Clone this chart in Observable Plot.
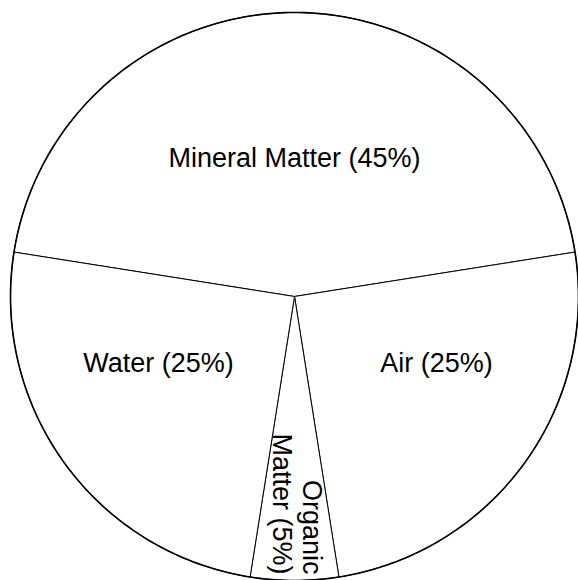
<!DOCTYPE html>
<html>
<head>
<meta charset="utf-8">
<script src="https://cdn.jsdelivr.net/npm/d3@7"></script>
<script src="https://cdn.jsdelivr.net/npm/@observablehq/plot@0.6"></script>
<style>
  html, body { margin: 0; padding: 0; background: #fff; }
  #chart svg { display: block; }
</style>
</head>
<body>
<div id="chart"></div>
<script>
// ---- data ----
const categories = ["Mineral Matter", "Air", "Organic Matter", "Water"];
const shares = [45, 25, 5, 25];
const labels = ["Mineral Matter (45%)", "Air (25%)", "Organic\nMatter (5%)", "Water (25%)"];

// ---- label layout (radius fraction, angular shift in degrees, rotation) ----
const labelRadius = [0.488, 0.553, 0.979, 0.534];
const labelShift = [0, -10.7, -0.6, 9.8];
const labelRotate = [0, 0, 90, 0];

const total = d3.sum(shares);
const start = -Math.PI * shares[0] / total;
const arcs = d3.pie().sort(null).startAngle(start).endAngle(start + 2 * Math.PI)(shares);

// slice outlines (center -> arc -> center) in unit-circle coordinates
const slicePts = [];
const rimPts = [];
arcs.forEach((a, i) => {
  const n = Math.max(8, Math.round((a.endAngle - a.startAngle) / (Math.PI / 180)));
  slicePts.push({slice: categories[i], x: 0, y: 0});
  for (let k = 0; k <= n; k++) {
    const t = a.startAngle + (a.endAngle - a.startAngle) * k / n;
    const p = {slice: categories[i], x: Math.sin(t), y: Math.cos(t)};
    slicePts.push(p);
    rimPts.push({...p});
  }
  slicePts.push({slice: categories[i], x: 0, y: 0});
});

const labelData = arcs.map((a, i) => {
  const mid = (a.startAngle + a.endAngle) / 2 + labelShift[i] * Math.PI / 180;
  return {label: labels[i], x: labelRadius[i] * Math.sin(mid), y: labelRadius[i] * Math.cos(mid), rotate: labelRotate[i]};
});

const font = "'Liberation Sans', Arial, Helvetica, sans-serif";

const chart = Plot.plot({
  width: 578,
  height: 580,
  marginLeft: 10,
  marginRight: 0,
  marginTop: 12,
  marginBottom: 0,
  x: {domain: [-1, 1], axis: null},
  y: {domain: [-1, 1], axis: null},
  style: {background: "white"},
  marks: [
    Plot.line(slicePts, {x: "x", y: "y", z: "slice", fill: "white", stroke: "black", strokeWidth: 1, curve: "linear"}),
    Plot.line(rimPts, {x: "x", y: "y", stroke: "black", strokeWidth: 1.6, curve: "linear"}),
    Plot.text(labelData.filter(d => d.rotate === 0), {x: "x", y: "y", text: "label", fontSize: 27, fontFamily: font, fill: "black", textAnchor: "middle"}),
    Plot.text(labelData.filter(d => d.rotate !== 0), {x: "x", y: "y", text: "label", fontSize: 27, fontFamily: font, fill: "black", rotate: 90, textAnchor: "end", lineHeight: 1.12})
  ]
});
document.getElementById("chart").appendChild(chart);
</script>
</body>
</html>
